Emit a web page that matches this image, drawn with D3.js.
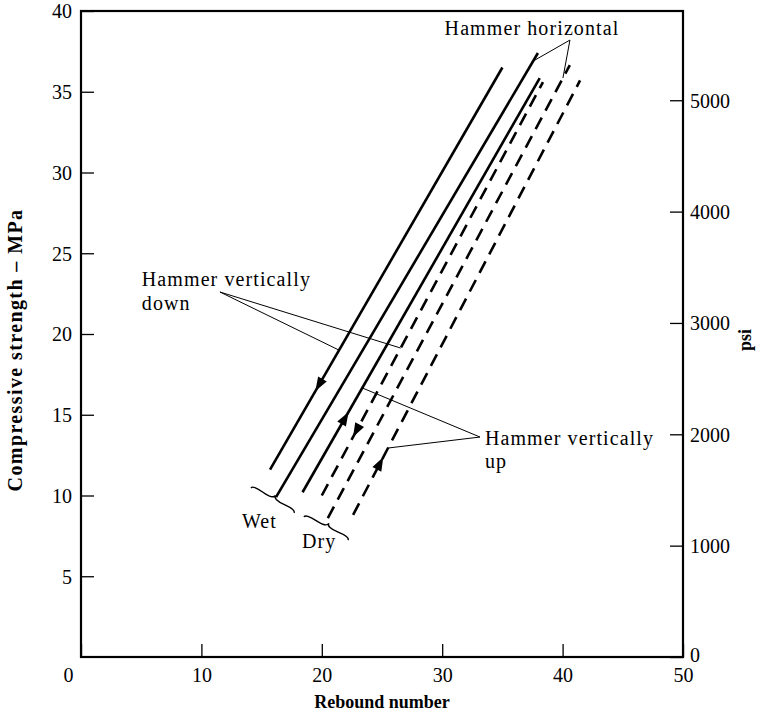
<!DOCTYPE html>
<html><head><meta charset="utf-8">
<script src="https://cdn.jsdelivr.net/npm/d3@7"></script>
<style>body{margin:0;background:#fff}svg{display:block}</style>
</head><body><svg id="chart" width="764" height="715"></svg>
<script>
// ---------- data ----------
const xTicks = [0, 10, 20, 30, 40, 50];
const yTicks = [5, 10, 15, 20, 25, 30, 35, 40];
const psiTicks = [0, 1000, 2000, 3000, 4000, 5000];
const MPA_TO_PSI = 145.038;

const lineCondition   = ["wet", "wet", "wet", "dry", "dry", "dry"];
const lineHammer      = ["down", "horizontal", "up", "down", "horizontal", "up"];
const reboundStart    = [15.7, 16.2, 18.4, 20.0, 20.5, 22.6];
const strengthStart   = [11.6, 9.9, 10.2, 10.0, 8.6, 8.8];
const reboundEnd      = [35.0, 37.95, 38.1, 38.37, 40.6, 41.45];
const strengthEnd     = [36.5, 37.4, 35.85, 35.6, 36.65, 35.7];

// arrows on lines (line index, strength at arrow)
const arrowLine     = [0, 2, 3, 5];
const arrowStrength = [16.84, 14.8, 14.0, 12.0];

// annotation labels [rebound, strength] anchor
const annText   = ["Hammer horizontal", "Hammer vertically", "down", "Hammer vertically", "up", "Wet", "Dry"];
const annX      = [30.2, 5.05, 5.05, 33.55, 33.55, 13.37, 18.35];
const annY      = [38.5, 22.95, 21.5, 13.15, 11.7, 8.0, 6.75];
// pointer lines: apex + target lines + strength at target
const ptrApexX   = [40.61, 40.61, 11.54, 11.54, 33.14, 33.14];
const ptrApexY   = [38.2, 38.2, 22.6, 22.6, 13.62, 13.62];
const ptrLine    = [1, 4, 0, 3, 2, 5];
const ptrStrength= [36.9, 35.85, 19.0, 19.13, 16.66, 12.94];
// braces [x1,y1,x2,y2] in data units
const braceX1 = [14.12, 18.52], braceY1 = [10.46, 8.67];
const braceX2 = [17.69, 22.18], braceY2 = [8.92, 7.24];

// ---------- chart ----------
const svg = d3.select("#chart");
const FONT = "'Liberation Serif','Times New Roman',serif";
const x = d3.scaleLinear().domain([0, 50]).range([81, 683]);
const y = d3.scaleLinear().domain([0, 40]).range([657, 11]);
const psi = d3.scaleLinear().domain([0, 40 * MPA_TO_PSI]).range([657, 11]);

function styleAxis(g) {
  g.select(".domain").remove();
  g.selectAll(".tick line").attr("stroke", "#000").attr("stroke-width", 1.3);
  g.selectAll(".tick text").attr("font-family", FONT).attr("font-size", 20).attr("fill", "#000");
}

const gx = svg.append("g").attr("transform", `translate(0,${y(0)})`)
  .call(d3.axisBottom(x).tickValues(xTicks).tickSizeInner(-13).tickSizeOuter(0));
styleAxis(gx);
gx.selectAll(".tick text").attr("y", 25).attr("dy", 0).attr("dx", d => d === 0 ? -13 : 0);

const gy = svg.append("g").attr("transform", `translate(${x(0)},0)`)
  .call(d3.axisLeft(y).tickValues(yTicks).tickSizeInner(-13).tickSizeOuter(0).tickPadding(9));
styleAxis(gy);
gy.selectAll(".tick text").attr("dy", "0.34em");

const gp = svg.append("g").attr("transform", `translate(${x(50)},0)`)
  .call(d3.axisRight(psi).tickValues(psiTicks).tickFormat(d3.format("d"))
    .tickSizeInner(-13).tickSizeOuter(0).tickPadding(7));
styleAxis(gp);
gp.selectAll(".tick text").attr("dy", d => d === 0 ? "0.2em" : "0.34em");

// frame
svg.append("rect").attr("x", x(0)).attr("y", y(40)).attr("width", x(50) - x(0)).attr("height", y(0) - y(40))
  .attr("fill", "none").attr("stroke", "#000").attr("stroke-width", 2.2);

// axis titles
svg.append("text").attr("x", 382).attr("y", 708).attr("text-anchor", "middle")
  .attr("font-family", FONT).attr("font-weight", "bold").attr("font-size", 18).text("Rebound number");
svg.append("text").attr("transform", "translate(22,350) rotate(-90)").attr("text-anchor", "middle")
  .attr("font-family", FONT).attr("font-weight", "bold").attr("font-size", 20).attr("letter-spacing", 1.4)
  .text("Compressive strength – MPa");
svg.append("text").attr("transform", "translate(751,340) rotate(-90)").attr("text-anchor", "middle")
  .attr("font-family", FONT).attr("font-weight", "bold").attr("font-size", 18).text("psi");

// lines
const lines = lineCondition.map((c, i) => ({
  cond: c, hammer: lineHammer[i],
  pts: [[reboundStart[i], strengthStart[i]], [reboundEnd[i], strengthEnd[i]]]
}));
const lineGen = d3.line().x(d => x(d[0])).y(d => y(d[1]));
svg.append("g").selectAll("path").data(lines).join("path")
  .attr("d", d => lineGen(d.pts))
  .attr("fill", "none").attr("stroke", "#000").attr("stroke-width", 2.6)
  .attr("stroke-dasharray", d => d.cond === "dry" ? "13,8" : null);

function reboundAt(i, s) {
  return reboundStart[i] + (s - strengthStart[i]) * (reboundEnd[i] - reboundStart[i]) / (strengthEnd[i] - strengthStart[i]);
}

// arrows
arrowLine.forEach((li, k) => {
  const s = arrowStrength[k];
  const px = x(reboundAt(li, s)), py = y(s);
  let ux = x(reboundEnd[li]) - x(reboundStart[li]), uy = y(strengthEnd[li]) - y(strengthStart[li]);
  const L = Math.hypot(ux, uy); ux /= L; uy /= L;
  if (lineHammer[li] === "down") { ux = -ux; uy = -uy; }
  const tipX = px + ux * 7, tipY = py + uy * 7, bx = px - ux * 7, by = py - uy * 7;
  const nx = -uy, ny = ux, hw = 5;
  svg.append("path")
    .attr("d", `M${tipX},${tipY}L${bx + nx * hw},${by + ny * hw}L${bx - nx * hw},${by - ny * hw}Z`)
    .attr("fill", "#000");
});

// pointer lines
ptrLine.forEach((li, k) => {
  const s = ptrStrength[k];
  svg.append("line")
    .attr("x1", x(ptrApexX[k])).attr("y1", y(ptrApexY[k]))
    .attr("x2", x(reboundAt(li, s))).attr("y2", y(s))
    .attr("stroke", "#000").attr("stroke-width", 1);
});

// annotation texts
svg.append("g").selectAll("text").data(annText).join("text")
  .attr("x", (d, i) => x(annX[i])).attr("y", (d, i) => y(annY[i]))
  .attr("font-family", FONT).attr("font-size", 20).attr("letter-spacing", 1.1)
  .attr("fill", "#000").text(d => d);

// braces
function curlyBrace(x1, y1, x2, y2, w, q) {
  let dx = x1 - x2, dy = y1 - y2;
  const len = Math.hypot(dx, dy); dx /= len; dy /= len;
  const qx1 = x1 + q * w * dy, qy1 = y1 - q * w * dx;
  const qx2 = (x1 - .25 * len * dx) + (1 - q) * w * dy, qy2 = (y1 - .25 * len * dy) - (1 - q) * w * dx;
  const tx1 = (x1 - .5 * len * dx) + w * dy, ty1 = (y1 - .5 * len * dy) - w * dx;
  const qx3 = x2 + q * w * dy, qy3 = y2 - q * w * dx;
  const qx4 = (x1 - .75 * len * dx) + (1 - q) * w * dy, qy4 = (y1 - .75 * len * dy) - (1 - q) * w * dx;
  return `M${x1},${y1}Q${qx1},${qy1} ${qx2},${qy2}T${tx1},${ty1}M${x2},${y2}Q${qx3},${qy3} ${qx4},${qy4}T${tx1},${ty1}`;
}
braceX1.forEach((bx, k) => {
  svg.append("path")
    .attr("d", curlyBrace(x(bx), y(braceY1[k]), x(braceX2[k]), y(braceY2[k]), -6, 0.6))
    .attr("fill", "none").attr("stroke", "#000").attr("stroke-width", 1.4);
});
</script></body></html>
